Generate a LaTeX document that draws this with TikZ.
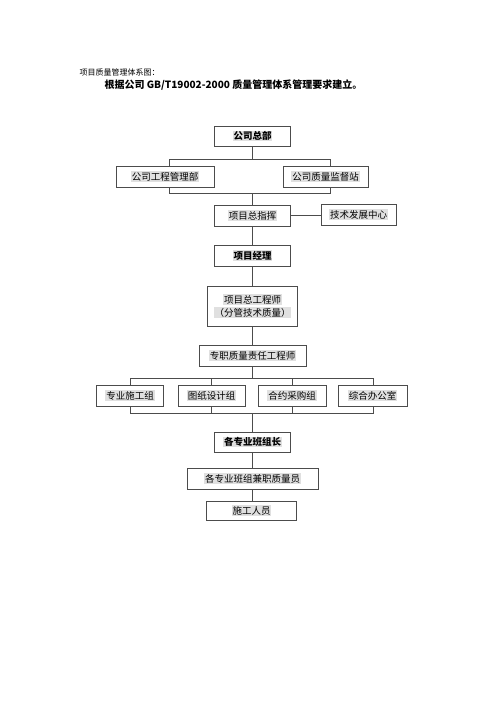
\documentclass[tikz,border=0pt]{standalone}
\usepackage{fontspec}
\setmainfont{Noto Sans CJK SC}
\usetikzlibrary{backgrounds}
\definecolor{hl}{gray}{0.88}
\definecolor{ln}{gray}{0.3}
\setlength{\fboxsep}{0.8pt}
\newcommand{\hlt}[1]{\colorbox{hl}{#1}}
\begin{document}
\begin{tikzpicture}[x=1pt,y=-1pt,
  box/.style={draw=ln,line width=0.8pt,fill=white,inner sep=0pt,align=center,
    font=\fontsize{9.5}{13}\selectfont},
  bbox/.style={box,font=\fontsize{9.5}{13}\selectfont\bfseries},
  conn/.style={draw=ln,line width=0.8pt}]
\useasboundingbox (0,0) rectangle (500,707);
\node[anchor=west,font=\fontsize{8}{10}\selectfont] (t1) at (76,72) {项目质量管理体系图：};
\node[anchor=west,font=\fontsize{10}{12}\selectfont\bfseries] (t2) at (101,85) {根据公司 GB/T19002-2000 质量管理体系管理要求建立。};

\node[bbox,minimum width=76pt,minimum height=20pt] (zb) at (252.5,136) {\hlt{公司总部}};
\node[box,minimum width=98pt,minimum height=21pt] (gc) at (165,176.5) {\hlt{公司工程管理部}};
\node[box,minimum width=85pt,minimum height=21pt] (zl) at (325.5,176.5) {\hlt{公司质量监督站}};
\node[box,minimum width=76pt,minimum height=21pt] (zh) at (252.5,215.5) {\hlt{项目总指挥}};
\node[box,minimum width=75pt,minimum height=21pt] (js) at (358.5,214.5) {\hlt{技术发展中心}};
\node[bbox,minimum width=76pt,minimum height=21pt] (jl) at (252.5,255.5) {\hlt{项目经理}};
\node[box,minimum width=90pt,minimum height=40pt] (zg) at (252.5,306) {\hlt{项目总工程师}\\\hlt{（分管技术质量）}};
\node[box,minimum width=107pt,minimum height=21pt] (zz) at (252.5,355.5) {\hlt{专职质量责任工程师}};
\node[box,minimum width=67pt,minimum height=21pt] (a1) at (130,395.5) {\hlt{专业施工组}};
\node[box,minimum width=67pt,minimum height=21pt] (a2) at (211.5,395.5) {\hlt{图纸设计组}};
\node[box,minimum width=68pt,minimum height=21pt] (a3) at (292,395.5) {\hlt{合约采购组}};
\node[box,minimum width=69pt,minimum height=21pt] (a4) at (372.5,395.5) {\hlt{综合办公室}};
\node[bbox,minimum width=76pt,minimum height=20pt] (bz) at (252.5,442) {\hlt{各专业班组长}};
\node[box,minimum width=131pt,minimum height=21pt] (jz) at (252.5,478.5) {\hlt{各专业班组兼职质量员}};
\node[box,minimum width=90pt,minimum height=19pt] (sg) at (251.5,510.5) {\hlt{施工人员}};

\coordinate (u1) at (169,159);
\coordinate (u2) at (330,159);
\coordinate (l1) at (169,193);
\coordinate (l2) at (330,193);
\coordinate (r1) at (130,378);
\coordinate (r4) at (373,378);
\coordinate (s1) at (130,413);
\coordinate (s4) at (373,413);

\begin{scope}[on background layer]
\draw[conn] (zb.south) -- (zb.south |- u1);
\draw[conn] (u1) -- (u2) -- (l2) -- (l1) -- cycle;
\draw[conn] (zh.north |- l1) -- (zh.north);
\draw[conn] (zh.east) -- (js.west |- zh.east);
\draw[conn] (zh.south) -- (jl.north);
\draw[conn] (jl.south) -- (zg.north);
\draw[conn] (zg.south) -- (zz.north);
\draw[conn] (zz.south) -- (zz.south |- r1);
\draw[conn] (r1) -- (r4) -- (s4) -- (s1) -- cycle;
\draw[conn] (a2.center |- r1) -- (a2.center |- s1);
\draw[conn] (a3.center |- r1) -- (a3.center |- s1);
\draw[conn] (bz.north |- s1) -- (bz.north);
\draw[conn] (bz.south) -- (jz.north);
\draw[conn] (jz.south) -- (jz.south |- sg.north);
\end{scope}
\end{tikzpicture}
\end{document}
